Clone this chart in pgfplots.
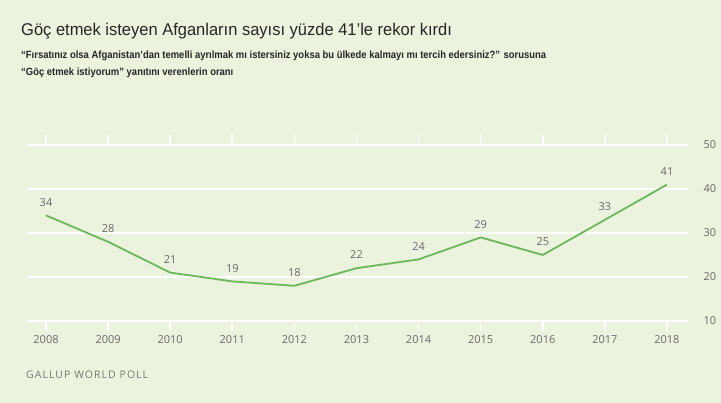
\documentclass[border=0pt]{standalone}
\usepackage{fontspec}
\usepackage{pgfplots}
\pgfplotsset{compat=1.18}
\setmainfont{Liberation Sans}
\newfontfamily\titlefont[FakeStretch=0.97]{Liberation Sans}
\newfontfamily\subfont[FakeStretch=0.90]{Liberation Sans}
\newfontfamily\tickfont{Open Sans}
\definecolor{bg}{HTML}{EBF2DD}
\definecolor{linegreen}{HTML}{6BB85C}
\definecolor{txtgray}{HTML}{6A6A6A}
\definecolor{srcgray}{HTML}{767A73}
\begin{document}
\begin{tikzpicture}
\fill[bg] (0pt,0pt) rectangle (721pt,403pt);
\useasboundingbox (0pt,0pt) rectangle (721pt,403pt);
\node[anchor=base west,inner sep=0pt,font=\titlefont\fontsize{17}{20}\selectfont,text=black!85]
  at (21pt,367pt) {Göç etmek isteyen Afganların sayısı yüzde 41’le rekor kırdı};
\node[anchor=base west,inner sep=0pt,font=\subfont\bfseries\fontsize{10.5}{12}\selectfont,text=black!85]
  at (21pt,344.5pt) {“Fırsatınız olsa Afganistan’dan temelli ayrılmak mı istersiniz yoksa bu ülkede kalmayı mı tercih edersiniz?” sorusuna};
\node[anchor=base west,inner sep=0pt,font=\subfont\bfseries\fontsize{10.5}{12}\selectfont,text=black!85]
  at (21pt,327.5pt) {“Göç etmek istiyorum” yanıtını verenlerin oranı};
\node[anchor=base west,inner sep=0pt,font=\tickfont\fontsize{10.5}{12}\selectfont,text=srcgray]
  at (26pt,24pt) {\addfontfeature{LetterSpace=10}GALLUP WORLD POLL};
\begin{axis}[
  at={(27pt,82pt)}, anchor=south west,
  scale only axis, width=661pt, height=176pt,
  xmin=2007.694, xmax=2018.338,
  ymin=10, ymax=50,
  axis line style={draw=none},
  xtick={2008,...,2018},
  ytick={10,20,30,40,50},
  xticklabel style={/pgf/number format/1000 sep={}, font=\tickfont\fontsize{11}{12}\selectfont, text=txtgray, yshift=-1pt},
  yticklabel pos=right,
  yticklabel style={font=\tickfont\fontsize{11}{12}\selectfont, text=txtgray, xshift=2pt},
  /pgf/number format/assume math mode=true,
  ymajorgrids,
  grid style={white, line width=1.6pt},
  tick align=outside,
  major tick length=10pt,
  xtick style={white, line width=1.6pt},
  ytick style={draw=none},
  clip=false,
]
\addplot[linegreen, line width=1.8pt,
  nodes near coords,
  every node near coord/.append style={font=\tickfont\fontsize{11}{12}\selectfont, text=txtgray, yshift=5pt},
] coordinates {
(2008,34) (2009,28) (2010,21) (2011,19) (2012,18) (2013,22)
(2014,24) (2015,29) (2016,25) (2017,33) (2018,41)
};
\end{axis}
\end{tikzpicture}
\end{document}
